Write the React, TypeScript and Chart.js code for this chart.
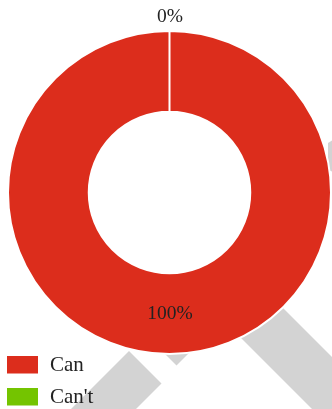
import React, { useEffect, useRef } from "react";
import { Chart, registerables } from "chart.js";

Chart.register(...registerables);

const categories: string[] = ["Can", "Can't"];
const values: number[] = [100, 0];
const colors: string[] = ["#dc2d1c", "#74c400"];

const LABEL_FONT = "19.5px 'Liberation Serif', 'Times New Roman', serif";
const LEGEND_FONT = "21px 'Liberation Serif', 'Times New Roman', serif";

const bgPlugin = {
  id: "bgDecor",
  beforeDraw(chart: any) {
    const ctx = chart.ctx;
    ctx.save();
    ctx.fillStyle = "#d3d3d3";
    const polys: number[][][] = [
      [[240, 265], [420, 445], [348, 445], [180, 277]],
      [[189, 289], [221, 321], [176.5, 365.5], [144.5, 333.5]],
      [[129, 351], [161.5, 383.5], [85, 460], [20, 460]],
      [[328, 143], [333, 140], [333, 172], [328, 170]],
    ];
    for (const p of polys) {
      ctx.beginPath();
      ctx.moveTo(p[0][0], p[0][1]);
      for (let i = 1; i < p.length; i++) ctx.lineTo(p[i][0], p[i][1]);
      ctx.closePath();
      ctx.fill();
    }
    ctx.restore();
  },
};

const labelPlugin = {
  id: "pctLabels",
  afterDatasetsDraw(chart: any) {
    const ctx = chart.ctx;
    const meta = chart.getDatasetMeta(0);
    const data = chart.data.datasets[0].data as number[];
    const total = data.reduce((a, b) => a + b, 0);
    ctx.save();
    ctx.font = LABEL_FONT;
    ctx.fillStyle = "#222";
    ctx.textAlign = "center";
    ctx.textBaseline = "middle";
    meta.data.forEach((arc: any, i: number) => {
      const { x, y, startAngle, endAngle, innerRadius, outerRadius } = arc.getProps(
        ["x", "y", "startAngle", "endAngle", "innerRadius", "outerRadius"],
        true
      );
      const mid = (startAngle + endAngle) / 2;
      const pct = Math.round((data[i] / total) * 100);
      const r = data[i] === 0 ? outerRadius + 14 : (innerRadius + outerRadius) / 2;
      ctx.fillText(pct + "%", x + 0.5 + Math.cos(mid) * r, y + Math.sin(mid) * r);
    });
    ctx.restore();
  },
  afterDraw(chart: any) {
    const ctx = chart.ctx;
    const ds = chart.data.datasets[0];
    ctx.save();
    ctx.font = LEGEND_FONT;
    ctx.textAlign = "left";
    ctx.textBaseline = "middle";
    (chart.data.labels as string[]).forEach((lab, i) => {
      const top = 356 + i * 32;
      ctx.fillStyle = ds.backgroundColor[i];
      ctx.fillRect(7, top, 31, 17.5);
      ctx.fillStyle = "#222";
      ctx.fillText(lab, 50, top + 9);
    });
    ctx.restore();
  },
};

export default function App() {
  const ref = useRef<HTMLCanvasElement>(null);
  useEffect(() => {
    document.body.style.margin = "0";
    const chart = new Chart(ref.current as HTMLCanvasElement, {
      type: "doughnut",
      data: {
        labels: categories,
        datasets: [
          {
            data: values,
            backgroundColor: colors,
            borderColor: "#ffffff",
            borderWidth: 2,
          },
        ],
      },
      options: {
        responsive: false,
        animation: false,
        cutout: "50%",
        layout: { padding: { left: 7, right: 0, top: 30, bottom: 54 } },
        plugins: {
          legend: { display: false },
          tooltip: { enabled: false },
        },
      },
      plugins: [bgPlugin, labelPlugin],
    });
    return () => chart.destroy();
  }, []);
  return (
    <canvas ref={ref} width={332} height={409} style={{ display: "block" }} />
  );
}
